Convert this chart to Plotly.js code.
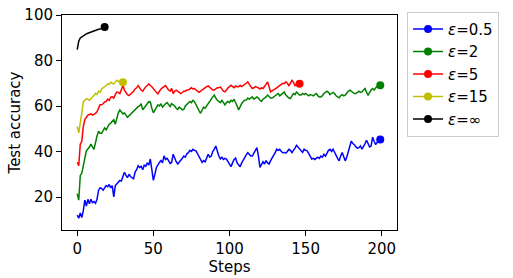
<!DOCTYPE html>
<html>
<head>
<meta charset="utf-8">
<script src="https://cdn.plot.ly/plotly-3.0.1.min.js"></script>
<style>html,body{margin:0;padding:0;background:#fff;}#chart{width:513px;height:278px;}</style>
</head>
<body>
<div id="chart"></div>
<script>
const seriesNames = ["<i>ε</i>=0.5", "<i>ε</i>=2", "<i>ε</i>=5", "<i>ε</i>=15", "<i>ε</i>=∞"];
const seriesColors = ["#0000ff", "#008000", "#ff0000", "#bfbf00", "#000000"];

const eps05 = [12,10.7,13,11,14,18.6,16,19,17,19,17.5,18,17.2,19,23,24,23.8,23,24,25,
24.5,25.5,24,25,20,25,26,26.5,27.3,27,29,30.9,29.5,28.5,30,29,28.5,28,31,32,
33.8,33,33.5,32,34,33.5,35,34,36.7,32,27.3,30,33,34,35.2,36,35,38.1,36.5,37,
36,34.8,35.2,38.8,37.5,35.5,34.5,35,36,37,38,37.5,39,39.5,40.5,40,41,40.5,40.3,39,
38,36.5,35.2,36,35.5,37,38.8,37.5,38,40,41,42.4,40,38,36.7,37.5,36.5,37,36.7,35.5,
34.5,33.3,35,36.5,37.1,35,34,33.3,35,36.5,37.5,38.5,39.5,39,38,38,39.5,40.5,41.7,38,
33,34,35.5,34.5,36,35,34.5,36,37.5,38.5,39.5,41,40.5,41,40,39.5,39.6,39.3,40,41,
40.5,39.5,40.5,41.5,42.7,42,41,40.5,39.6,41,40.5,40.3,39,38,36.7,37,36.5,37,37.5,37,
38,37.5,38.8,38,39.5,40.5,41,40,41,40.3,38.5,37,35.9,38,39.6,38,35.9,37.5,39,42,
44.6,43.5,43,42,41.5,41.7,42.5,41,42.5,43.5,44.9,43.5,42,42.4,46.3,44.5,43,44,45,45.3];

const eps2 = [21.5,18.6,29.4,30.5,33.8,37,40.3,41,42,43.2,42,41,44,46.8,48.9,48,48,49,50.4,49.5,
51,52,52.5,53,54,52,55,57,58.3,57.5,56.5,57,56,55,55.4,56.5,57,57.5,58.5,59,
59.7,60,61,58.3,59.5,60.5,61,61.9,61.8,59,57,58,59.5,60.5,60,61,59.5,60,61,61.5,
60.5,59.7,61,60.6,60,59,58.5,59.5,59,58.3,58.5,60,60.5,61.2,62,61.5,62.5,61.9,61,59.5,
58,56.8,58,59.5,59,60,61,61.5,63,64,64.8,63.5,62.5,62,61.5,62.5,61.5,60.5,61.5,62,
61.5,62.5,62,63,62,60,58.3,59.5,61,62,62.5,62.6,63.5,63,63.5,64,63,63.5,64,63.5,
62.5,62,63,63.5,64,64.8,64,63.5,63.5,64,64.5,65,65.5,64.5,64.8,65.5,66.2,64.8,64,63.5,
63.3,64.5,65.5,65,66.2,65.5,64.8,64.8,65.5,65,65.5,65,64.5,65,64.8,64.5,65,65.5,64.5,64,
64,64.5,65.5,66,66.5,66,65,65.5,66,65.5,64.5,64,63.6,64.5,65,64.5,64.8,65.5,66.5,67,
66.5,66,65.5,65.5,66,66.5,66,66.2,67,67.7,66,64.8,66,67,67.7,67,68,68.5,68.5,69.1];

const eps5 = [35.2,33.8,43.2,44.5,51,54,55,56,56.1,56.5,56,56.5,56.8,57.5,58.9,60.5,60.5,61,61.8,62,
63,62.5,63.9,64,63.5,65,66.1,66,65.5,67,69,67,66,65,64.6,65.5,66,66.5,67.5,68,
69,68,67,66.5,67.5,68.5,69,69.7,69,68.5,68,67,66,65.4,66.5,67.5,68,68.5,69,68,
67,66.5,67.7,65.5,66.5,67,66.5,66,65.5,66,66.5,66.5,67,67,67.5,68,67.5,67.7,67,66.5,
66,66.2,67,67.5,68,68.5,68.8,68,67.5,67,67,67.5,68,68,68.4,67.5,66.5,66.2,67,68,
68.5,69.1,68.5,68,68.8,68.5,68.5,69,68.5,69,69.5,70,70.6,69.5,68.5,67.7,68,68.5,68.4,68,
67.5,68,67.7,68.5,69.5,70.6,68.5,66.2,66.5,67,67.5,68,68.4,69.1,69.5,70,69.9,70.6,70,69,
70,71.3,70.5,69,69.5,70,69.8];

const eps15 = [51,48.2,53,57,61.8,62.5,63.2,63,62.5,63.5,64,64.6,65.5,65,66.5,66,67.5,68,68.5,69,
69.7,69.5,70.4,70,69.7,70.5,71.3,71,70.5,70.8,70.4];

const epsInf = [84.8,88.5,89.9,90.5,91,91.3,91.7,92,92.3,92.5,92.8,93,93.2,93.5,93.7,93.8,94,94.3,94.7];

const allSeries = [eps05, eps2, eps5, eps15, epsInf];

const traces = allSeries.map((vals, i) => {
  const steps = vals.map((_, k) => k);
  const xr = steps.slice().reverse();
  const yr = vals.slice().reverse();
  const mcol = yr.map((_, k) => k === 0 ? seriesColors[i] : 'rgba(0,0,0,0)');
  return {
    x: xr, y: yr, type: 'scatter', mode: 'lines+markers', name: seriesNames[i],
    line: {color: seriesColors[i], width: 1.5},
    marker: {size: 8, color: mcol, line: {width: 0}},
    hoverinfo: 'skip'
  };
});

const font = {family: 'DejaVu Sans, sans-serif', size: 15, color: '#000'};

const layout = {
  width: 513, height: 278,
  margin: {l: 62, r: 116, t: 12, b: 48, pad: 0},
  paper_bgcolor: '#fff', plot_bgcolor: '#fff',
  font: font,
  showlegend: true,
  legend: {
    x: 1.03, y: 1.015, xanchor: 'left', yanchor: 'top',
    bgcolor: '#fff', bordercolor: '#cccccc', borderwidth: 1,
    font: font, tracegroupgap: 0
  },
  xaxis: {
    range: [-10, 210], tickvals: [0, 50, 100, 150, 200],
    showgrid: false, zeroline: false,
    showline: true, mirror: true, linecolor: '#000', linewidth: 1,
    ticks: 'outside', ticklen: 5, tickwidth: 1, tickcolor: '#000',
    title: {text: 'Steps', font: font, standoff: 1},
    tickfont: font
  },
  yaxis: {
    range: [5.5, 100], tickvals: [20, 40, 60, 80, 100],
    showgrid: false, zeroline: false,
    showline: true, mirror: true, linecolor: '#000', linewidth: 1,
    ticks: 'outside', ticklen: 5, tickwidth: 1, tickcolor: '#000',
    title: {text: 'Test accuracy', font: font, standoff: 0},
    tickfont: font
  }
};

Plotly.newPlot('chart', traces, layout, {displayModeBar: false, staticPlot: true});
</script>
</body>
</html>
